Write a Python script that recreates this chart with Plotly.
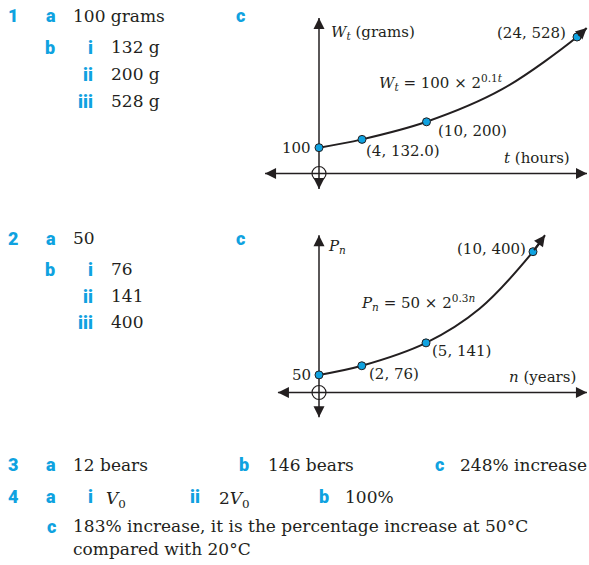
import plotly.graph_objects as go

W, H = 589, 565
BLUE = "#0fa2e0"
INK = "#231f20"
SERIF = "DejaVu Serif"
SANS = "Roboto"

# ---------------- data ----------------
# Question 1 graph: W_t = 100 x 2^(0.1t)
q1_t = [0, 4, 10, 24]
q1_W = [100, 132, 200, 528]
q1_labels = ["100", "(4, 132.0)", "(10, 200)", "(24, 528)"]
q1_curve_t = [0, 4, 10, 17, 24, 24.9]
q1_curve_W = [100, 132, 200, 325, 528, 563]
q1_axis_t = [-5.02, 24.93]     # extent of the drawn t axis
q1_axis_W = [-60, 602]         # extent of the drawn W axis

# Question 2 graph: P_n = 50 x 2^(0.3n)
q2_n = [0, 2, 5, 10]
q2_P = [50, 76, 141, 400]
q2_labels = ["50", "(2, 76)", "(5, 141)", "(10, 400)"]
q2_curve_n = [0, 2, 5, 7.5, 10, 10.56]
q2_curve_P = [50, 76, 141, 238, 400, 447]
q2_axis_n = [-1.92, 12.52]
q2_axis_P = [-70, 447]

# answer text rows
q1_answers = ["100 grams", "132 g", "200 g", "528 g"]
q2_answers = ["50", "76", "141", "400"]
q3_answers = ["12 bears", "146 bears", "248% increase"]
q4_answers = ["<i>V</i><sub>0</sub>", "2<i>V</i><sub>0</sub>", "100%",
              "183% increase, it is the percentage increase at 50°C",
              "compared with 20°C"]

# ---------------- layout helpers ----------------
def px(x):
    return x / W

def py(y):
    return 1 - y / H

def xrange_from(p0, p1, origin, scale):
    return [(p0 - origin) / scale, (p1 - origin) / scale]

def yrange_from(pb, pt, origin, scale):
    return [(origin - pb) / scale, (origin - pt) / scale]

# graph 1 calibration (pixels)
G1_DOM_X = (255, 589); G1_DOM_Y = (5, 200)
G1_OX, G1_SX = 319, 10.75
G1_OY, G1_SY = 173.5, 0.2585
# graph 2 calibration
G2_DOM_X = (255, 589); G2_DOM_Y = (225, 425)
G2_OX, G2_SX = 319, 21.4
G2_OY, G2_SY = 392.5, 0.352

fig = go.Figure()
ann = []
shapes = []

def line(xs, ys, xa, ya, width, shape="linear"):
    fig.add_trace(go.Scatter(x=xs, y=ys, mode="lines", xaxis=xa, yaxis=ya,
                             line=dict(shape=shape, color=INK, width=width),
                             hoverinfo="skip", showlegend=False))

def heads(xs, ys, symbols, xa, ya, size=11):
    fig.add_trace(go.Scatter(x=xs, y=ys, mode="markers", xaxis=xa, yaxis=ya,
                             marker=dict(symbol=symbols, size=size, color=INK,
                                         line=dict(width=0)),
                             hoverinfo="skip", showlegend=False))

def axes(ax_x, ax_y, xa, ya):
    line(ax_x, [0, 0], xa, ya, 1.5)
    line([0, 0], ax_y, xa, ya, 1.5)
    heads([ax_x[0], ax_x[1], 0, 0], [0, 0, ax_y[0], ax_y[1]],
          ["arrow-left", "arrow-right", "arrow-down", "arrow-up"], xa, ya)

def curve(xs, ys, mx, my, xa, ya):
    line(xs, ys, xa, ya, 2, "spline")
    ann.append(dict(xref=xa, yref=ya, axref=xa, ayref=ya,
                    x=xs[-1], y=ys[-1], ax=mx[-1], ay=my[-1],
                    text="", showarrow=True, arrowhead=2, arrowsize=1.1,
                    arrowwidth=2, arrowcolor=INK, standoff=0, startstandoff=0))
    fig.add_trace(go.Scatter(x=mx, y=my, mode="markers", xaxis=xa, yaxis=ya,
                             marker=dict(size=8, color=BLUE,
                                         line=dict(color=INK, width=1)),
                             hoverinfo="skip", showlegend=False))

axes(q1_axis_t, q1_axis_W, "x", "y")
axes(q2_axis_n, q2_axis_P, "x2", "y2")
curve(q1_curve_t, q1_curve_W, q1_t, q1_W, "x", "y")
curve(q2_curve_n, q2_curve_P, q2_n, q2_P, "x2", "y2")

for xr, yr in (("x", "y"), ("x2", "y2")):
    shapes.append(dict(type="circle", xref=xr, yref=yr, xsizemode="pixel",
                       ysizemode="pixel", xanchor=0, yanchor=0,
                       x0=-7, x1=7, y0=-7, y1=7,
                       line=dict(color=INK, width=1.2)))

def text(s, x, y, anchor="left", size=17, font=SERIF, color=INK, weight="normal"):
    ann.append(dict(xref="paper", yref="paper", x=px(x), y=py(y), text=s,
                    showarrow=False, xanchor=anchor, yanchor="middle",
                    font=dict(family=font, size=size, color=color, weight=weight)))

def blue(s, x, y, anchor="left"):
    text(s, x, y, anchor=anchor, size=18, font=SANS, color=BLUE, weight=900)

def glabel(s, xr, yr, x, y, dx, dy, anchor="left"):
    ann.append(dict(xref=xr, yref=yr, x=x, y=y, text=s, showarrow=False,
                    xanchor=anchor, yanchor="middle", xshift=dx, yshift=dy,
                    font=dict(family=SERIF, size=15, color=INK)))

# graph 1 labels
text("<i>W</i><sub><i>t</i></sub> (grams)", 329, 33, size=15)
text("<i>W</i><sub><i>t</i></sub> = 100 × 2<sup>0.1<i>t</i></sup>", 377, 83, size=15)
text("<i>t</i> (hours)", 502, 158, size=15)
glabel(q1_labels[0], "x", "y", q1_t[0], q1_W[0], -6, 0, anchor="right")
glabel(q1_labels[1], "x", "y", q1_t[1], q1_W[1], 2, -12)
glabel(q1_labels[2], "x", "y", q1_t[2], q1_W[2], 9, -9)
glabel(q1_labels[3], "x", "y", q1_t[3], q1_W[3], -9, 4, anchor="right")

# graph 2 labels
text("<i>P</i><sub><i>n</i></sub>", 326, 247, size=15)
text("<i>P</i><sub><i>n</i></sub> = 50 × 2<sup>0.3<i>n</i></sup>", 359, 302, size=15)
text("<i>n</i> (years)", 507, 377, size=15)
glabel(q2_labels[0], "x2", "y2", q2_n[0], q2_P[0], -6, 0, anchor="right")
glabel(q2_labels[1], "x2", "y2", q2_n[1], q2_P[1], 5, -8)
glabel(q2_labels[2], "x2", "y2", q2_n[2], q2_P[2], 4, -8)
glabel(q2_labels[3], "x2", "y2", q2_n[3], q2_P[3], -5, 3, anchor="right")

# question 1
blue("1", 6, 15); blue("a", 44, 15); text(q1_answers[0], 71, 16)
blue("c", 234, 15)
blue("b", 43, 47); blue("i", 95, 47, "right"); text(q1_answers[1], 109, 47)
blue("ii", 95, 74, "right"); text(q1_answers[2], 109, 74)
blue("iii", 95, 101, "right"); text(q1_answers[3], 109, 101)

# question 2
blue("2", 6, 238); blue("a", 44, 238); text(q2_answers[0], 71, 238)
blue("c", 234, 238)
blue("b", 43, 269); blue("i", 95, 269, "right"); text(q2_answers[1], 109, 269)
blue("ii", 95, 296, "right"); text(q2_answers[2], 109, 296)
blue("iii", 95, 322, "right"); text(q2_answers[3], 109, 322)

# question 3
blue("3", 6, 465); blue("a", 44, 465); text(q3_answers[0], 71, 465)
blue("b", 237, 465); text(q3_answers[1], 266, 465)
blue("c", 433, 465); text(q3_answers[2], 458, 465)

# question 4
blue("4", 6, 497); blue("a", 44, 497)
blue("i", 95, 497, "right"); text(q4_answers[0], 104, 499)
blue("ii", 202, 497, "right"); text(q4_answers[1], 217, 499)
blue("b", 317, 497); text(q4_answers[2], 343, 497)
blue("c", 45, 526); text(q4_answers[3], 71, 526)
text(q4_answers[4], 71, 549)

axis_common = dict(visible=False, fixedrange=True, showgrid=False, zeroline=False)
fig.update_layout(
    width=W, height=H, autosize=False,
    margin=dict(l=0, r=0, t=0, b=0),
    paper_bgcolor="white", plot_bgcolor="rgba(0,0,0,0)",
    showlegend=False,
    xaxis=dict(domain=[px(G1_DOM_X[0]), px(G1_DOM_X[1])],
               range=xrange_from(G1_DOM_X[0], G1_DOM_X[1], G1_OX, G1_SX),
               anchor="y", **axis_common),
    yaxis=dict(domain=[py(G1_DOM_Y[1]), py(G1_DOM_Y[0])],
               range=yrange_from(G1_DOM_Y[1], G1_DOM_Y[0], G1_OY, G1_SY),
               anchor="x", **axis_common),
    xaxis2=dict(domain=[px(G2_DOM_X[0]), px(G2_DOM_X[1])],
                range=xrange_from(G2_DOM_X[0], G2_DOM_X[1], G2_OX, G2_SX),
                anchor="y2", **axis_common),
    yaxis2=dict(domain=[py(G2_DOM_Y[1]), py(G2_DOM_Y[0])],
                range=yrange_from(G2_DOM_Y[1], G2_DOM_Y[0], G2_OY, G2_SY),
                anchor="x2", **axis_common),
    annotations=ann, shapes=shapes,
)

fig.write_html("out.html", config={"displayModeBar": False, "staticPlot": True},
               post_script="document.body.style.margin='0px';")
